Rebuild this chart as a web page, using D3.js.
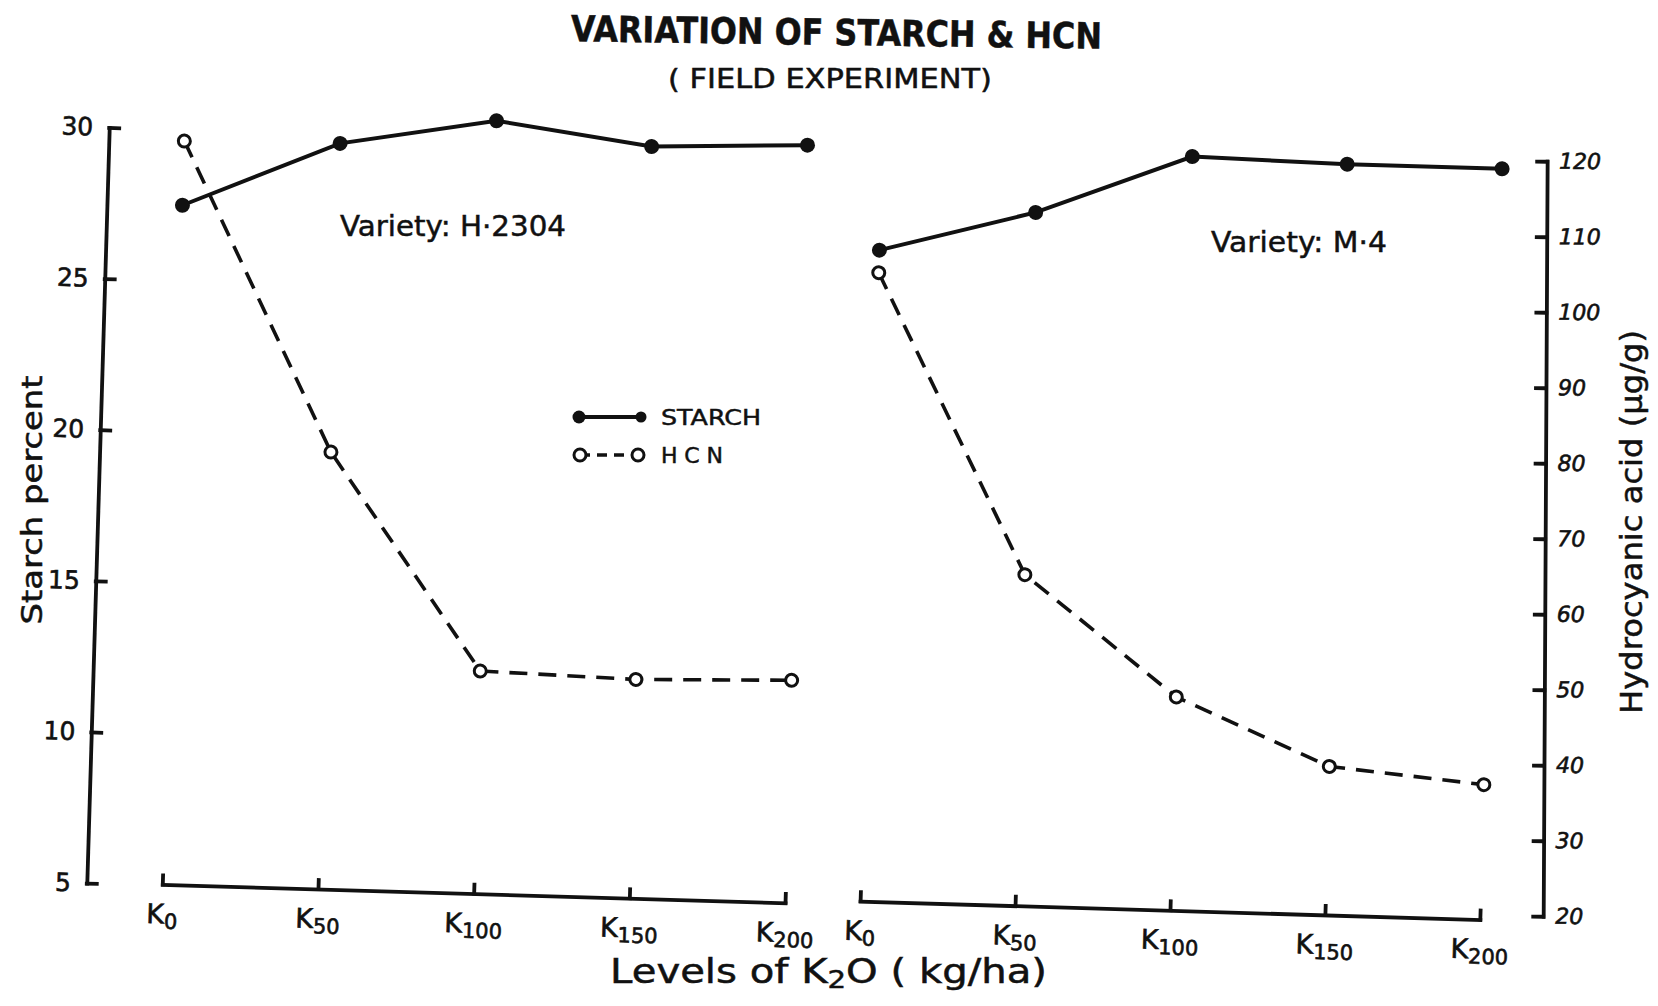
<!DOCTYPE html>
<html lang="en">
<head>
  <meta charset="UTF-8">
  <title>Variation of Starch &amp; HCN</title>
  <script src="https://d3js.org/d3.v7.min.js"></script>
  <style>
    body { margin: 0; background: #fff; font-family: "DejaVu Sans", sans-serif; }
    svg text { fill: #111; stroke: #111; stroke-width: 0.5; }
    .axis path, .axis line { stroke: #111; stroke-width: 3.8; stroke-linecap: square; }
    .axis text { font-family: "DejaVu Sans", sans-serif; fill: #111; stroke: #111; stroke-width: 0.6; }
    .starch { fill: none; stroke: #111; stroke-width: 4; }
    .hcn { fill: none; stroke: #111; stroke-width: 3.6; stroke-dasharray: 18 11; }
  </style>
</head>
<body>
  <svg id="chart" width="1658" height="1006"></svg>

  <script>
    // K2O levels (kg/ha)
    const levels = [0, 50, 100, 150, 200];

    // Variety H-2304
    const starchH2304 = [27.5, 29.7, 30.6, 29.9, 30.1];
    const hcnH2304 = [117.3, 76.7, 48.3, 47.8, 48.3];

    // Variety M-4
    const starchM4 = [26.7, 28.1, 30.1, 30.0, 30.0];
    const hcnM4 = [102.6, 63.2, 47.6, 39.0, 37.2];

    const starchTicks = [5, 10, 15, 20, 25, 30];
    const hcnTicks = [20, 30, 40, 50, 60, 70, 80, 90, 100, 110, 120];

    const panels = [
      { variety: "H·2304", starch: starchH2304, hcn: hcnH2304, range: [174, 797], axisY: 904 },
      { variety: "M·4", starch: starchM4, hcn: hcnM4, range: [872, 1492], axisY: 900 }
    ];

    const svg = d3.select("#chart");
    svg.append("rect").attr("width", 1658).attr("height", 1006).attr("fill", "#fff");

    // the scanned drawing is tilted a little clockwise
    const g = svg.append("g").attr("transform", "rotate(1.7, 830, 500)");

    const yStarch = d3.scaleLinear().domain([5, 30]).range([905, 149]);
    const yHcn = d3.scaleLinear().domain([20, 120]).range([895, 140]);

    // left axis (starch)
    g.append("g")
      .attr("class", "axis")
      .attr("transform", "translate(98.5,0)")
      .call(d3.axisLeft(yStarch).tickValues(starchTicks).tickSizeInner(-10).tickSizeOuter(0).tickPadding(16))
      .call(a => a.selectAll("text").attr("font-size", 25));

    // right axis (HCN)
    g.append("g")
      .attr("class", "axis")
      .attr("transform", "rotate(-1.4, 1546, 517) translate(1546,0)")
      .call(d3.axisRight(yHcn).tickValues(hcnTicks).tickSizeInner(-10).tickSizeOuter(0).tickPadding(12))
      .call(a => a.selectAll("text").attr("font-size", 22).attr("font-style", "italic"));

    panels.forEach(p => {
      const x = d3.scalePoint().domain(levels).range(p.range);

      const ax = g.append("g")
        .attr("class", "axis")
        .attr("transform", `translate(0,${p.axisY})`)
        .call(d3.axisBottom(x).tickSizeInner(-9).tickSizeOuter(0).tickPadding(20));

      ax.selectAll(".tick text").each(function(d) {
        const t = d3.select(this).text(null).attr("font-size", 27);
        t.append("tspan").text("K");
        t.append("tspan").attr("font-size", 21).attr("dy", "0.25em").text(d);
      });

      const starchLine = d3.line().x((d, i) => x(levels[i])).y(d => yStarch(d));
      const hcnLine = d3.line().x((d, i) => x(levels[i])).y(d => yHcn(d));

      g.append("path").datum(p.starch).attr("class", "starch").attr("d", starchLine);
      g.append("path").datum(p.hcn).attr("class", "hcn").attr("d", hcnLine);

      g.selectAll(null)
        .data(p.starch)
        .enter().append("circle")
        .attr("cx", (d, i) => x(levels[i]))
        .attr("cy", d => yStarch(d))
        .attr("r", 7.5)
        .attr("fill", "#111");

      g.selectAll(null)
        .data(p.hcn)
        .enter().append("circle")
        .attr("cx", (d, i) => x(levels[i]))
        .attr("cy", d => yHcn(d))
        .attr("r", 6)
        .attr("fill", "#fff")
        .attr("stroke", "#111")
        .attr("stroke-width", 3);
    });

    // titles
    svg.append("text")
      .attr("x", 571).attr("y", 45)
      .attr("transform", "rotate(0.8, 836, 30)")
      .attr("font-size", 36).attr("font-weight", "bold")
      .attr("textLength", 531).attr("lengthAdjust", "spacingAndGlyphs")
      .text("VARIATION OF STARCH & HCN");

    svg.append("text")
      .attr("x", 668).attr("y", 88)
      .attr("font-size", 26)
      .attr("textLength", 324).attr("lengthAdjust", "spacingAndGlyphs")
      .text("( FIELD EXPERIMENT)");

    svg.append("text")
      .attr("x", 340).attr("y", 236)
      .attr("font-size", 29)
      .attr("textLength", 226).attr("lengthAdjust", "spacingAndGlyphs")
      .text("Variety: " + panels[0].variety);

    svg.append("text")
      .attr("x", 1211).attr("y", 252)
      .attr("font-size", 29)
      .attr("textLength", 176).attr("lengthAdjust", "spacingAndGlyphs")
      .text("Variety: " + panels[1].variety);

    // axis titles
    svg.append("text")
      .attr("transform", "translate(42,500) rotate(-90)")
      .attr("x", -124.5)
      .attr("font-size", 29)
      .attr("textLength", 249).attr("lengthAdjust", "spacingAndGlyphs")
      .text("Starch percent");

    svg.append("text")
      .attr("transform", "translate(1642,522) rotate(-90)")
      .attr("x", -192)
      .attr("font-size", 30)
      .attr("textLength", 384).attr("lengthAdjust", "spacingAndGlyphs")
      .text("Hydrocyanic acid (µg/g)");

    const xt = svg.append("text")
      .attr("x", 610).attr("y", 983)
      .attr("font-size", 33)
      .attr("textLength", 437).attr("lengthAdjust", "spacingAndGlyphs");
    xt.append("tspan").text("Levels of K");
    xt.append("tspan").attr("font-size", 24).attr("dy", 5).text("2");
    xt.append("tspan").attr("dy", -5).text("O ( kg/ha)");

    // legend
    const legend = svg.append("g");
    legend.append("line").attr("x1", 579).attr("x2", 641).attr("y1", 417).attr("y2", 417)
      .attr("class", "starch");
    legend.append("circle").attr("cx", 579).attr("cy", 417).attr("r", 6.5).attr("fill", "#111");
    legend.append("circle").attr("cx", 641).attr("cy", 417).attr("r", 5.5).attr("fill", "#111");
    legend.append("text").attr("x", 661).attr("y", 425).attr("font-size", 22)
      .attr("textLength", 100).attr("lengthAdjust", "spacingAndGlyphs").text("STARCH");

    legend.append("line").attr("x1", 580).attr("x2", 638).attr("y1", 455).attr("y2", 455)
      .attr("stroke", "#111").attr("stroke-width", 3.6).attr("stroke-dasharray", "10 7");
    legend.append("circle").attr("cx", 580).attr("cy", 455).attr("r", 6).attr("fill", "#fff")
      .attr("stroke", "#111").attr("stroke-width", 3);
    legend.append("circle").attr("cx", 638).attr("cy", 455).attr("r", 6).attr("fill", "#fff")
      .attr("stroke", "#111").attr("stroke-width", 3);
    legend.append("text").attr("x", 661).attr("y", 463).attr("font-size", 22)
      .attr("textLength", 62).attr("lengthAdjust", "spacing").text("HCN");
  </script>
</body>
</html>
